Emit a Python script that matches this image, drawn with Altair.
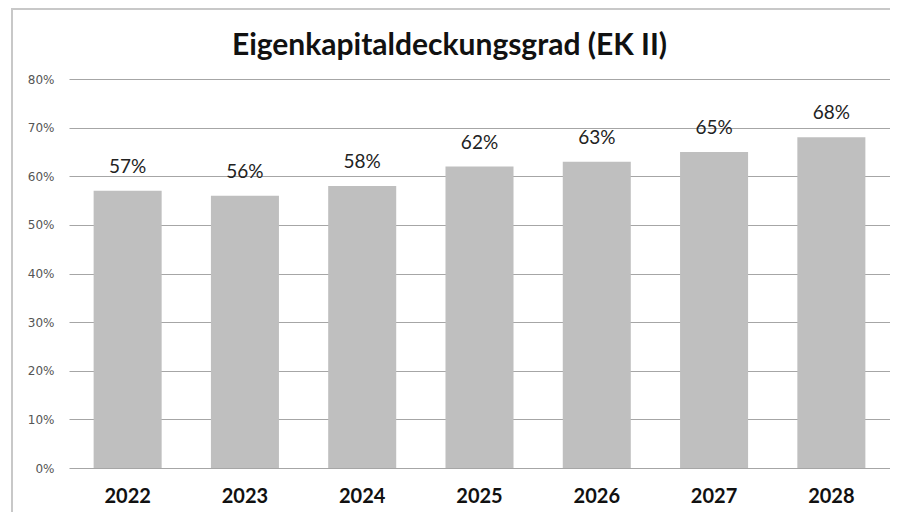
import altair as alt
import pandas as pd

years = ["2022", "2023", "2024", "2025", "2026", "2027", "2028"]
values = [0.57, 0.56, 0.58, 0.62, 0.63, 0.65, 0.68]
labels = ["57%", "56%", "58%", "62%", "63%", "65%", "68%"]
y_ticks = [0, 0.1, 0.2, 0.3, 0.4, 0.5, 0.6, 0.7, 0.8]

df = pd.DataFrame({"year": years, "value": values, "label": labels})

xenc = alt.X("year:N", sort=years, title=None,
             scale=alt.Scale(paddingInner=0.42, paddingOuter=0.21),
             axis=alt.Axis(labelAngle=0, labelFont="Lato", labelFontWeight="bold",
                           labelFontSize=20, labelColor="#111", labelPadding=18,
                           ticks=False, domain=False, grid=False))
yenc = alt.Y("value:Q", title=None,
             scale=alt.Scale(domain=[0, 0.8], nice=False),
             axis=alt.Axis(values=y_ticks, format=".0%", labelFont="DejaVu Sans",
                           labelFontSize=12, labelColor="#555", labelPadding=15,
                           ticks=False, domain=False, grid=True,
                           gridColor="#a6a6a6", gridWidth=1.2))

bars = alt.Chart(df).mark_bar(color="#bfbfbf").encode(x=xenc, y=yenc)

text = alt.Chart(df).mark_text(font="Lato", fontSize=19, color="#222",
                               baseline="alphabetic", dy=-18).encode(
    x=alt.X("year:N", sort=years), y="value:Q", text="label:N")

frame = alt.Chart(df).mark_rect(fill=None, stroke="#c8c8c8", strokeWidth=2,
                                clip=False).encode(
    x=alt.value(-57), x2=alt.value(850), y=alt.value(-70), y2=alt.value(450))

chart = alt.layer(bars, text, frame).properties(
    width=821, height=389,
    title=alt.TitleParams("Eigenkapitaldeckungsgrad (EK II)", font="Lato",
                          fontSize=30, fontWeight="bold", color="#111",
                          anchor="middle", frame="group", dx=-30, dy=77,
                          offset=24),
    autosize=alt.AutoSizeParams(type="none"),
    padding={"left": 61, "top": 71, "right": 0, "bottom": 44},
).configure_view(stroke=None)

chart.save("out.html", embed_options={"renderer": "svg", "actions": False})
